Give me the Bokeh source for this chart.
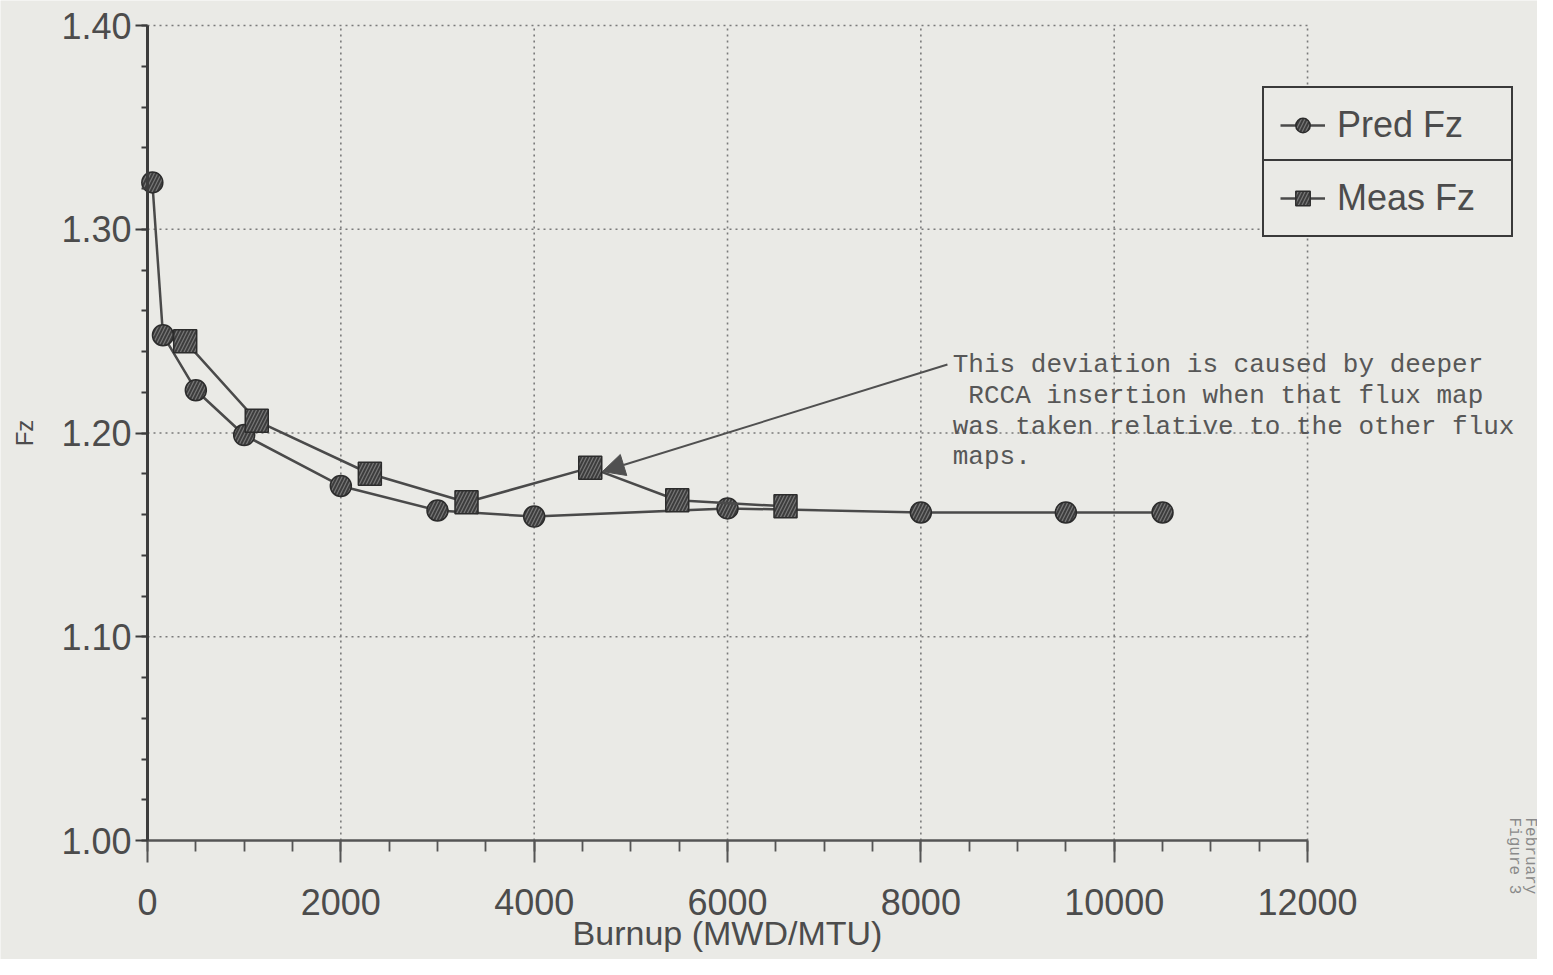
import numpy as np
from bokeh.plotting import figure
from bokeh.models import (Range1d, FixedTicker, Legend, LegendItem, Label,
                          Arrow, NormalHead)
from bokeh.embed import file_html
from bokeh.resources import INLINE

# ---------------- data ----------------
pred_burnup = [50, 160, 500, 1000, 2000, 3000, 4000, 6000, 8000, 9500, 10500]
pred_fz = [1.323, 1.248, 1.221, 1.199, 1.174, 1.162, 1.159, 1.163, 1.161, 1.161, 1.161]

meas_burnup = [390, 1130, 2300, 3300, 4580, 5480, 6600]
meas_fz = [1.245, 1.206, 1.180, 1.166, 1.183, 1.167, 1.164]

x_ticks = [0, 2000, 4000, 6000, 8000, 10000, 12000]
x_tick_labels = ["0", "2000", "4000", "6000", "8000", "10000", "12000"]
y_ticks = [1.00, 1.10, 1.20, 1.30, 1.40]
y_tick_labels = ["1.00", "1.10", "1.20", "1.30", "1.40"]

series_names = ["Pred Fz", "Meas Fz"]
x_title = "Burnup (MWD/MTU)"
y_title = "Fz"

note_lines = ["This deviation is caused by deeper",
              "RCCA insertion when that flux map",
              "was taken relative to the other flux",
              "maps."]
note_x = 8330
note_y = [1.2336, 1.2184, 1.2027, 1.1884]
note_indent_chars = [0, 1, 0, 0]
arrow_tail = [8275, 1.2336]
arrow_head = [4707, 1.1811]

side_texts = ["Figure 3", "February"]

# ---------------- style ----------------
BG = "#eaeae6"
INK = "#3c3c3c"
TXT = "#4c4c4c"
GRID = "#7a7a7a"

W, H = 1537, 959
PX_PER_X = 0.09667      # pixels per MWD/MTU
PX_PER_Y = 2037.5       # pixels per Fz unit
LEFT_PX, TOP_PX = 147, 25   # position of (0, 1.40) in the canvas

x0 = -LEFT_PX / PX_PER_X
x1 = (W - LEFT_PX) / PX_PER_X
y1 = 1.40 + TOP_PX / PX_PER_Y
y0 = y1 - H / PX_PER_Y

p = figure(width=W, height=H, output_backend="svg", toolbar_location=None,
           x_range=Range1d(x0, x1), y_range=Range1d(y0, y1),
           min_border=0, background_fill_color=BG, border_fill_color=BG,
           outline_line_color=None)
p.xgrid.visible = False
p.ygrid.visible = False

# grid lines, bounded to the axis extents, built from the tick arrays
p.segment(x0=x_ticks[1:], x1=x_ticks[1:], y0=y_ticks[0], y1=y_ticks[-1],
          line_color=GRID, line_dash="2 4", line_width=1.6)
p.segment(x0=x_ticks[0], x1=x_ticks[-1], y0=y_ticks[1:], y1=y_ticks[1:],
          line_color=GRID, line_dash="2 4", line_width=1.6)

# axes
xa = p.xaxis[0]
xa.fixed_location = y_ticks[0]
xa.ticker = FixedTicker(ticks=x_ticks, minor_ticks=list(range(0, 12001, 500)))
xa.major_label_overrides = dict(zip(x_ticks, x_tick_labels))
xa.bounds = (x_ticks[0], x_ticks[-1])
xa.axis_label = x_title
xa.axis_line_color = "#555555"
xa.axis_line_width = 2.5
xa.major_tick_line_color = "#555555"
xa.major_tick_line_width = 2
xa.major_tick_out = 22
xa.major_tick_in = 0
xa.minor_tick_line_color = "#555555"
xa.minor_tick_line_width = 1.8
xa.minor_tick_out = 11
xa.minor_tick_in = 0
xa.major_label_standoff = 26
xa.axis_label_standoff = -4

ya = p.yaxis[0]
ya.fixed_location = x_ticks[0]
ya.ticker = FixedTicker(ticks=y_ticks,
                        minor_ticks=[round(v, 2) for v in np.arange(1.0, 1.4001, 0.02)])
ya.major_label_overrides = dict(zip(y_ticks, y_tick_labels))
ya.bounds = (y_ticks[0], y_ticks[-1])
ya.axis_label = y_title
ya.axis_line_color = INK
ya.axis_line_width = 3
ya.major_tick_line_color = INK
ya.major_tick_line_width = 2
ya.major_tick_out = 12
ya.major_tick_in = 0
ya.minor_tick_line_color = INK
ya.minor_tick_line_width = 1.8
ya.minor_tick_out = 6
ya.minor_tick_in = 0
ya.major_label_standoff = 4
ya.axis_label_standoff = 20

for a in (xa, ya):
    a.major_label_text_font = "Liberation Sans"
    a.major_label_text_font_size = "36px"
    a.major_label_text_color = TXT
    a.axis_label_text_font = "Liberation Sans"
    a.axis_label_text_font_style = "normal"
    a.axis_label_text_color = TXT
xa.axis_label_text_font_size = "34px"
ya.axis_label_text_font_size = "24px"

# series
pred_line = p.line(pred_burnup, pred_fz, line_color="#4a4a4a", line_width=2.5)
pred_pts = p.scatter(pred_burnup, pred_fz, marker="circle", size=21,
                     fill_color=INK, line_color="#2c2c2c", line_width=1.5,
                     hatch_pattern="/", hatch_color="#777777", hatch_scale=7,
                     hatch_weight=1.2)
meas_line = p.line(meas_burnup, meas_fz, line_color="#4a4a4a", line_width=2.5)
meas_pts = p.scatter(meas_burnup, meas_fz, marker="square", size=23,
                     fill_color=INK, line_color="#2c2c2c", line_width=1.5,
                     hatch_pattern="/", hatch_color="#777777", hatch_scale=7,
                     hatch_weight=1.2)

# legends (two stacked boxes)
leg_common = dict(label_text_font="Liberation Sans", label_text_font_size="36px",
                  label_text_color=TXT, glyph_width=45, glyph_height=36,
                  label_width=158, label_height=36, label_standoff=12,
                  padding=16, margin=0, spacing=0,
                  border_line_color="#3a3a3a", border_line_width=2.5,
                  border_line_alpha=1.0,
                  background_fill_color=BG, background_fill_alpha=1.0)
leg1 = Legend(items=[LegendItem(label=series_names[0], renderers=[pred_line, pred_pts])],
              location=(1262, 795), **leg_common)
leg2 = Legend(items=[LegendItem(label=series_names[1], renderers=[meas_line, meas_pts])],
              location=(1262, 722), **leg_common)
p.add_layout(leg1)
p.add_layout(leg2)

# annotation
p.add_layout(Arrow(end=NormalHead(size=22, fill_color="#505050", line_color="#505050"),
                   x_start=arrow_tail[0], y_start=arrow_tail[1],
                   x_end=arrow_head[0], y_end=arrow_head[1],
                   line_color="#505050", line_width=2))
for txt, yy, ind in zip(note_lines, note_y, note_indent_chars):
    p.add_layout(Label(x=note_x, y=yy, text=txt, x_offset=ind * 15.6,
                       text_font="Liberation Mono", text_font_size="26px",
                       text_color="#575757", text_baseline="middle"))

# rotated margin text at right edge
for txt, sx in zip(side_texts, [1513, 1529]):
    p.add_layout(Label(x=sx, y=142, x_units="screen", y_units="screen", text=txt,
                       angle=-np.pi / 2, text_font="Liberation Mono",
                       text_font_size="16px", text_color="#8a8a8a",
                       text_baseline="middle", text_align="left"))

open("out.html", "w").write(file_html(p, INLINE))
